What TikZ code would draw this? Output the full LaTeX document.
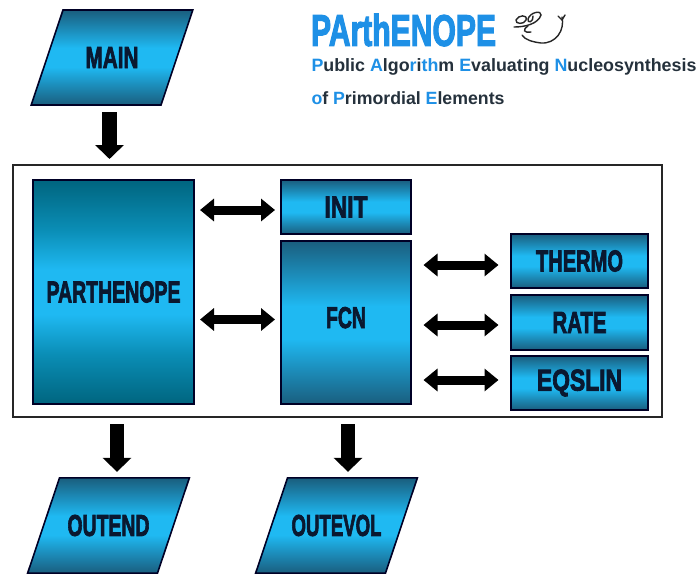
\documentclass[tikz,border=0pt]{standalone}
\usepackage{fontspec}
\usepackage{graphicx}
\usetikzlibrary{shapes.geometric,arrows.meta}
\newfontfamily\impf[FakeBold=3]{Liberation Sans Bold}
\setmainfont{Liberation Sans}
\definecolor{edgeblue}{HTML}{1A5E7E}
\definecolor{edgeteal}{HTML}{00657F}
\definecolor{halfblue}{HTML}{1C8FBD}
\definecolor{halfteal}{HTML}{0A8DB5}
\definecolor{midblue}{HTML}{1FB9F2}
\definecolor{lbl}{HTML}{0A1830}
\definecolor{ttl}{HTML}{1E90E6}
\definecolor{subt}{HTML}{25313C}
\pgfdeclareverticalshading{bandblue}{100bp}{color(0bp)=(edgeblue); color(25bp)=(edgeblue); color(36bp)=(halfblue); color(45bp)=(midblue); color(55bp)=(midblue); color(64bp)=(halfblue); color(75bp)=(edgeblue); color(100bp)=(edgeblue)}
\pgfdeclareverticalshading{bandteal}{100bp}{color(0bp)=(edgeteal); color(25bp)=(edgeteal); color(36bp)=(halfteal); color(45bp)=(midblue); color(55bp)=(midblue); color(64bp)=(halfteal); color(75bp)=(edgeteal); color(100bp)=(edgeteal)}
\newcommand\lblbox[2]{\resizebox{#1pt}{21pt}{\impf #2}}
\newcommand\paratext[2]{\makebox[98pt]{\lblbox{#1}{#2}}}
\newcommand\bl[1]{\textcolor{ttl}{#1}}
\tikzset{
  x=1pt,y=-1pt,
  grad/.style={draw=black!85!blue,line width=1.6pt,shading=bandblue,text=lbl,inner sep=0pt,outer sep=0pt},
  boxnode/.style={grad,rectangle,minimum width=#1},
  para/.style={grad,trapezium,trapezium left angle=71.5,trapezium right angle=108.5,inner xsep=0pt,inner ysep=37pt},
  frame/.style={draw=black!85,line width=2pt,fill=white,rectangle,minimum width=649pt,minimum height=252pt,inner sep=0pt,outer sep=0pt},
  singlearrow/.style={line width=14.5pt,black,-{Triangle[length=14pt,width=28pt]},shorten <=7pt,shorten >=6pt},
  doublearrow/.style={line width=9pt,black,{Triangle[length=14pt,width=22pt]}-{Triangle[length=14pt,width=22pt]},shorten <=#1,shorten >=#1},
  doublearrow/.default=6pt,
  plain/.style={inner sep=0pt,outer sep=0pt,anchor=west},
}
\begin{document}
\begin{tikzpicture}
\useasboundingbox (0,0) rectangle (699,574);
\fill[white] (0,0) rectangle (699,574);
% title
\node[plain,text=ttl] (title) at (311,30) {\resizebox{185pt}{32pt}{\impf PArthENOPE}};
\node[plain,text=subt] (sub1) at (311.5,66.5) {\resizebox{385pt}{!}{\bfseries \bl{P}ublic \bl{A}lgo\bl{r}i\bl{th}m \bl{E}valuating \bl{N}ucleosynthesis}};
\node[plain,text=subt] (sub2) at (311.5,98) {\resizebox{193pt}{!}{\bfseries \bl{o}f \bl{P}rimordial \bl{E}lements}};
% squiggle logo
\begin{scope}[line width=1.4pt,black!85,line cap=round]
\draw (562,17) .. controls (565,30) and (556,44) .. (541,43) .. controls (533,42) and (525,40) .. (522,35);
\draw (558,16) -- (562,20) -- (565,15);
\draw (514,27) .. controls (525,27) and (538,24) .. (541,15) .. controls (542,10) and (530,12) .. (528,19) .. controls (527,24) and (534,22) .. (533,16);
\draw (516,20) .. controls (518,15) and (528,14) .. (526,20) .. controls (524,25) and (515,24) .. (516,20);
\draw (528,26) .. controls (522,30) and (524,33) .. (531,32);
\end{scope}
% frame and inner blocks
\node[frame] (frame) at (337.5,291) {};
\node[boxnode=161pt,minimum height=224pt,shading=bandteal] (par) at (113.5,292) {\raisebox{-6pt}{\lblbox{134}{PARTHENOPE}}};
\node[boxnode=130pt,minimum height=54pt] (init) at (346,207) {\lblbox{43}{INIT}};
\node[boxnode=130pt,minimum height=163pt] (fcn) at (346,322.5) {\raisebox{10pt}{\lblbox{40}{FCN}}};
\node[boxnode=137pt,minimum height=54pt] (thermo) at (579.5,261) {\lblbox{87}{THERMO}};
\node[boxnode=137pt,minimum height=55pt] (rate) at (579.5,322.5) {\lblbox{54}{RATE}};
\node[boxnode=137pt,minimum height=54pt] (eqslin) at (579.5,383) {\lblbox{85}{EQSLIN}};
% parallelograms
\node[para] (main) at (112,57.5) {\paratext{53}{MAIN}};
\node[para] (outend) at (108.5,525.5) {\paratext{82}{OUTEND}};
\node[para] (outevol) at (336.5,525.5) {\paratext{90}{OUTEVOL}};
% connector guides
\coordinate (xmain) at (109.5,0);
\coordinate (xend) at (117,0);
\coordinate (xevol) at (348,0);
% connectors
\draw[singlearrow] (main.south -| xmain) -- (frame.north -| xmain);
\draw[singlearrow] (frame.south -| xend) -- (outend.north -| xend);
\draw[singlearrow] (frame.south -| xevol) -- (outevol.north -| xevol);
\draw[doublearrow] ([yshift=-3pt]par.east |- init.west) -- ([yshift=-3pt]init.west);
\draw[doublearrow] ([yshift=3pt]par.east |- fcn.west) -- ([yshift=3pt]fcn.west);
\draw[doublearrow=12.5pt] ([yshift=-4pt]fcn.east |- thermo.west) -- ([yshift=-4pt]thermo.west);
\draw[doublearrow=12.5pt] ([yshift=-2.5pt]fcn.east |- rate.west) -- ([yshift=-2.5pt]rate.west);
\draw[doublearrow=12.5pt] ([yshift=3pt]fcn.east |- eqslin.west) -- ([yshift=3pt]eqslin.west);
\end{tikzpicture}
\end{document}
